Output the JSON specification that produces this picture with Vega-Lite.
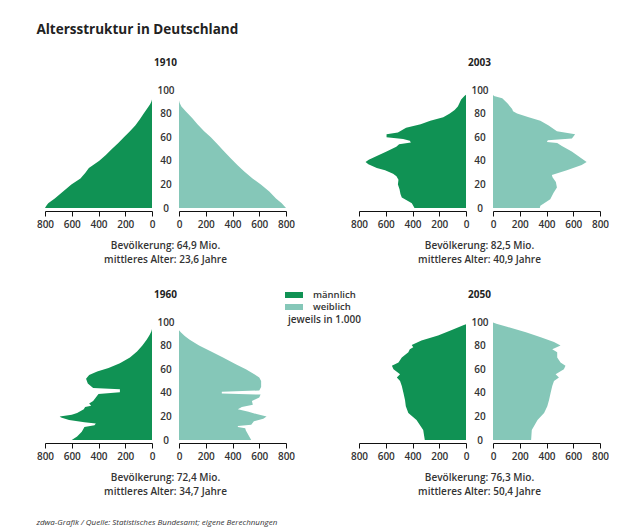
{
"$schema":"https://vega.github.io/schema/vega-lite/v6.json",
"padding":{"left":36,"top":22,"right":0,"bottom":0},
"title":{"text":"Altersstruktur in Deutschland","anchor":"start","fontSize":13.5,"fontWeight":"bold","color":"#222","offset":22},
"datasets":{"pop":[
{"year":"1910","sex":"männlich","age":0,"value":800},{"year":"1910","sex":"männlich","age":2,"value":790},{"year":"1910","sex":"männlich","age":4,"value":776},{"year":"1910","sex":"männlich","age":8,"value":727},{"year":"1910","sex":"männlich","age":14,"value":665},{"year":"1910","sex":"männlich","age":20,"value":603},{"year":"1910","sex":"männlich","age":25,"value":535},{"year":"1910","sex":"männlich","age":30,"value":498},{"year":"1910","sex":"männlich","age":34,"value":472},{"year":"1910","sex":"männlich","age":36,"value":445},{"year":"1910","sex":"männlich","age":40,"value":394},{"year":"1910","sex":"männlich","age":45,"value":345},{"year":"1910","sex":"männlich","age":50,"value":300},{"year":"1910","sex":"männlich","age":55,"value":252},{"year":"1910","sex":"männlich","age":60,"value":210},{"year":"1910","sex":"männlich","age":65,"value":165},{"year":"1910","sex":"männlich","age":70,"value":125},{"year":"1910","sex":"männlich","age":75,"value":92},{"year":"1910","sex":"männlich","age":80,"value":62},{"year":"1910","sex":"männlich","age":85,"value":32},{"year":"1910","sex":"männlich","age":88,"value":14},{"year":"1910","sex":"männlich","age":90,"value":5},{"year":"1910","sex":"männlich","age":92,"value":0},
{"year":"1910","sex":"weiblich","age":0,"value":800},{"year":"1910","sex":"weiblich","age":2,"value":785},{"year":"1910","sex":"weiblich","age":4,"value":768},{"year":"1910","sex":"weiblich","age":8,"value":725},{"year":"1910","sex":"weiblich","age":14,"value":675},{"year":"1910","sex":"weiblich","age":20,"value":612},{"year":"1910","sex":"weiblich","age":25,"value":550},{"year":"1910","sex":"weiblich","age":31,"value":488},{"year":"1910","sex":"weiblich","age":36,"value":440},{"year":"1910","sex":"weiblich","age":42,"value":388},{"year":"1910","sex":"weiblich","age":48,"value":338},{"year":"1910","sex":"weiblich","age":54,"value":288},{"year":"1910","sex":"weiblich","age":60,"value":238},{"year":"1910","sex":"weiblich","age":65,"value":188},{"year":"1910","sex":"weiblich","age":71,"value":138},{"year":"1910","sex":"weiblich","age":76,"value":100},{"year":"1910","sex":"weiblich","age":82,"value":50},{"year":"1910","sex":"weiblich","age":86,"value":18},{"year":"1910","sex":"weiblich","age":89,"value":5},{"year":"1910","sex":"weiblich","age":91,"value":0},
{"year":"2003","sex":"männlich","age":0,"value":385},{"year":"2003","sex":"männlich","age":4,"value":405},{"year":"2003","sex":"männlich","age":7,"value":450},{"year":"2003","sex":"männlich","age":9,"value":480},{"year":"2003","sex":"männlich","age":12,"value":490},{"year":"2003","sex":"männlich","age":16,"value":497},{"year":"2003","sex":"männlich","age":20,"value":509},{"year":"2003","sex":"männlich","age":24,"value":505},{"year":"2003","sex":"männlich","age":27,"value":520},{"year":"2003","sex":"männlich","age":29,"value":545},{"year":"2003","sex":"männlich","age":32,"value":605},{"year":"2003","sex":"männlich","age":34,"value":667},{"year":"2003","sex":"männlich","age":37,"value":730},{"year":"2003","sex":"männlich","age":39,"value":751},{"year":"2003","sex":"männlich","age":41,"value":727},{"year":"2003","sex":"männlich","age":44,"value":667},{"year":"2003","sex":"männlich","age":48,"value":594},{"year":"2003","sex":"männlich","age":52,"value":521},{"year":"2003","sex":"männlich","age":54,"value":500},{"year":"2003","sex":"männlich","age":55.5,"value":412},{"year":"2003","sex":"männlich","age":57,"value":420},{"year":"2003","sex":"männlich","age":58.5,"value":470},{"year":"2003","sex":"männlich","age":60,"value":594},{"year":"2003","sex":"männlich","age":62.5,"value":594},{"year":"2003","sex":"männlich","age":64,"value":509},{"year":"2003","sex":"männlich","age":68,"value":448},{"year":"2003","sex":"männlich","age":71,"value":339},{"year":"2003","sex":"männlich","age":74,"value":267},{"year":"2003","sex":"männlich","age":77,"value":170},{"year":"2003","sex":"männlich","age":80,"value":121},{"year":"2003","sex":"männlich","age":83,"value":85},{"year":"2003","sex":"männlich","age":86,"value":61},{"year":"2003","sex":"männlich","age":92,"value":36},{"year":"2003","sex":"männlich","age":95,"value":12},{"year":"2003","sex":"männlich","age":96,"value":0},
{"year":"2003","sex":"weiblich","age":0,"value":350},{"year":"2003","sex":"weiblich","age":2,"value":354},{"year":"2003","sex":"weiblich","age":7.5,"value":428},{"year":"2003","sex":"weiblich","age":13,"value":453},{"year":"2003","sex":"weiblich","age":17.5,"value":478},{"year":"2003","sex":"weiblich","age":22,"value":470},{"year":"2003","sex":"weiblich","age":26,"value":445},{"year":"2003","sex":"weiblich","age":28,"value":440},{"year":"2003","sex":"weiblich","age":32,"value":552},{"year":"2003","sex":"weiblich","age":36.5,"value":663},{"year":"2003","sex":"weiblich","age":39,"value":700},{"year":"2003","sex":"weiblich","age":42,"value":663},{"year":"2003","sex":"weiblich","age":48,"value":589},{"year":"2003","sex":"weiblich","age":52.5,"value":515},{"year":"2003","sex":"weiblich","age":55,"value":480},{"year":"2003","sex":"weiblich","age":56,"value":403},{"year":"2003","sex":"weiblich","age":57.5,"value":410},{"year":"2003","sex":"weiblich","age":59,"value":590},{"year":"2003","sex":"weiblich","age":62.5,"value":614},{"year":"2003","sex":"weiblich","age":65,"value":478},{"year":"2003","sex":"weiblich","age":70,"value":416},{"year":"2003","sex":"weiblich","age":74,"value":354},{"year":"2003","sex":"weiblich","age":77,"value":267},{"year":"2003","sex":"weiblich","age":80,"value":180},{"year":"2003","sex":"weiblich","age":82,"value":150},{"year":"2003","sex":"weiblich","age":84,"value":143},{"year":"2003","sex":"weiblich","age":89,"value":106},{"year":"2003","sex":"weiblich","age":93,"value":69},{"year":"2003","sex":"weiblich","age":95,"value":7},{"year":"2003","sex":"weiblich","age":96,"value":0},
{"year":"1960","sex":"männlich","age":0,"value":600},{"year":"1960","sex":"männlich","age":3,"value":560},{"year":"1960","sex":"männlich","age":7,"value":525},{"year":"1960","sex":"männlich","age":11,"value":505},{"year":"1960","sex":"männlich","age":12.5,"value":430},{"year":"1960","sex":"männlich","age":14,"value":420},{"year":"1960","sex":"männlich","age":15,"value":505},{"year":"1960","sex":"männlich","age":17,"value":620},{"year":"1960","sex":"männlich","age":19,"value":680},{"year":"1960","sex":"männlich","age":20,"value":690},{"year":"1960","sex":"männlich","age":21.5,"value":600},{"year":"1960","sex":"männlich","age":23,"value":560},{"year":"1960","sex":"männlich","age":26,"value":510},{"year":"1960","sex":"männlich","age":28,"value":500},{"year":"1960","sex":"männlich","age":29,"value":455},{"year":"1960","sex":"männlich","age":31,"value":470},{"year":"1960","sex":"männlich","age":33,"value":440},{"year":"1960","sex":"männlich","age":36,"value":420},{"year":"1960","sex":"männlich","age":39,"value":400},{"year":"1960","sex":"männlich","age":40.5,"value":240},{"year":"1960","sex":"männlich","age":43,"value":240},{"year":"1960","sex":"männlich","age":44,"value":440},{"year":"1960","sex":"männlich","age":48,"value":480},{"year":"1960","sex":"männlich","age":52,"value":493},{"year":"1960","sex":"männlich","age":55,"value":470},{"year":"1960","sex":"männlich","age":58,"value":410},{"year":"1960","sex":"männlich","age":61,"value":325},{"year":"1960","sex":"männlich","age":65,"value":240},{"year":"1960","sex":"männlich","age":70,"value":165},{"year":"1960","sex":"männlich","age":75,"value":112},{"year":"1960","sex":"männlich","age":80,"value":72},{"year":"1960","sex":"männlich","age":85,"value":40},{"year":"1960","sex":"männlich","age":89,"value":18},{"year":"1960","sex":"männlich","age":92,"value":5},{"year":"1960","sex":"männlich","age":94,"value":0},
{"year":"1960","sex":"weiblich","age":0,"value":540},{"year":"1960","sex":"weiblich","age":4,"value":520},{"year":"1960","sex":"weiblich","age":8,"value":500},{"year":"1960","sex":"weiblich","age":10,"value":495},{"year":"1960","sex":"weiblich","age":11,"value":440},{"year":"1960","sex":"weiblich","age":12,"value":440},{"year":"1960","sex":"weiblich","age":13,"value":540},{"year":"1960","sex":"weiblich","age":16,"value":560},{"year":"1960","sex":"weiblich","age":18,"value":630},{"year":"1960","sex":"weiblich","age":20,"value":655},{"year":"1960","sex":"weiblich","age":22,"value":580},{"year":"1960","sex":"weiblich","age":24,"value":520},{"year":"1960","sex":"weiblich","age":26,"value":440},{"year":"1960","sex":"weiblich","age":28,"value":470},{"year":"1960","sex":"weiblich","age":30,"value":552},{"year":"1960","sex":"weiblich","age":33,"value":545},{"year":"1960","sex":"weiblich","age":36,"value":600},{"year":"1960","sex":"weiblich","age":38.5,"value":610},{"year":"1960","sex":"weiblich","age":39.5,"value":320},{"year":"1960","sex":"weiblich","age":41,"value":320},{"year":"1960","sex":"weiblich","age":42,"value":600},{"year":"1960","sex":"weiblich","age":45,"value":614},{"year":"1960","sex":"weiblich","age":50,"value":614},{"year":"1960","sex":"weiblich","age":53,"value":600},{"year":"1960","sex":"weiblich","age":56,"value":560},{"year":"1960","sex":"weiblich","age":60,"value":500},{"year":"1960","sex":"weiblich","age":64,"value":428},{"year":"1960","sex":"weiblich","age":70,"value":329},{"year":"1960","sex":"weiblich","age":75,"value":240},{"year":"1960","sex":"weiblich","age":80,"value":150},{"year":"1960","sex":"weiblich","age":85,"value":80},{"year":"1960","sex":"weiblich","age":88,"value":45},{"year":"1960","sex":"weiblich","age":91,"value":15},{"year":"1960","sex":"weiblich","age":93,"value":0},
{"year":"2050","sex":"männlich","age":0,"value":308},{"year":"2050","sex":"männlich","age":8.6,"value":320},{"year":"2050","sex":"männlich","age":17,"value":370},{"year":"2050","sex":"männlich","age":23,"value":431},{"year":"2050","sex":"männlich","age":28.6,"value":450},{"year":"2050","sex":"männlich","age":34,"value":456},{"year":"2050","sex":"männlich","age":40,"value":468},{"year":"2050","sex":"männlich","age":45.7,"value":480},{"year":"2050","sex":"männlich","age":50,"value":493},{"year":"2050","sex":"männlich","age":53,"value":517},{"year":"2050","sex":"männlich","age":55.7,"value":493},{"year":"2050","sex":"männlich","age":60,"value":542},{"year":"2050","sex":"männlich","age":63,"value":554},{"year":"2050","sex":"männlich","age":65.7,"value":505},{"year":"2050","sex":"männlich","age":70,"value":480},{"year":"2050","sex":"männlich","age":74.3,"value":431},{"year":"2050","sex":"männlich","age":77,"value":420},{"year":"2050","sex":"männlich","age":78.6,"value":394},{"year":"2050","sex":"männlich","age":80.6,"value":406},{"year":"2050","sex":"männlich","age":84.3,"value":333},{"year":"2050","sex":"männlich","age":88.6,"value":209},{"year":"2050","sex":"männlich","age":93,"value":111},{"year":"2050","sex":"männlich","age":97,"value":25},{"year":"2050","sex":"männlich","age":98,"value":0},
{"year":"2050","sex":"weiblich","age":0,"value":285},{"year":"2050","sex":"weiblich","age":8.6,"value":290},{"year":"2050","sex":"weiblich","age":17,"value":333},{"year":"2050","sex":"weiblich","age":23,"value":382},{"year":"2050","sex":"weiblich","age":28.6,"value":406},{"year":"2050","sex":"weiblich","age":34,"value":419},{"year":"2050","sex":"weiblich","age":40,"value":431},{"year":"2050","sex":"weiblich","age":45.7,"value":443},{"year":"2050","sex":"weiblich","age":50,"value":456},{"year":"2050","sex":"weiblich","age":53,"value":493},{"year":"2050","sex":"weiblich","age":55.7,"value":468},{"year":"2050","sex":"weiblich","age":60,"value":530},{"year":"2050","sex":"weiblich","age":63,"value":542},{"year":"2050","sex":"weiblich","age":65.7,"value":505},{"year":"2050","sex":"weiblich","age":70,"value":480},{"year":"2050","sex":"weiblich","age":74.3,"value":480},{"year":"2050","sex":"weiblich","age":77,"value":443},{"year":"2050","sex":"weiblich","age":80,"value":505},{"year":"2050","sex":"weiblich","age":83,"value":456},{"year":"2050","sex":"weiblich","age":87,"value":357},{"year":"2050","sex":"weiblich","age":91.4,"value":246},{"year":"2050","sex":"weiblich","age":95.7,"value":111},{"year":"2050","sex":"weiblich","age":98.6,"value":25},{"year":"2050","sex":"weiblich","age":99.5,"value":0}
]},
"vconcat":[{
 "spacing":25,
 "title":{"text":"zdwa-Grafik / Quelle: Statistisches Bundesamt; eigene Berechnungen","orient":"bottom","anchor":"start","fontSize":8,"fontStyle":"italic","fontWeight":"normal","color":"#333","offset":22},
 "vconcat":[
  {"hconcat":[
   {"title":{"text":["Bevölkerung: 64,9 Mio.","mittleres Alter: 23,6 Jahre"],"orient":"bottom","anchor":"middle","fontSize":10,"fontWeight":600,"color":"#333","lineHeight":14,"offset":12},
    "vconcat":[{"title":{"text":"1910","anchor":"middle","fontSize":10,"fontWeight":"bold","color":"#222","offset":17},"spacing":27,"bounds":"flush","hconcat":[
     {"data":{"name":"pop"},"transform":[{"filter":"datum.year=='1910' && datum.sex=='männlich'"}],"width":107,"height":121,"mark":{"type":"area","orient":"horizontal"},
      "encoding":{"y":{"field":"age","type":"quantitative","scale":{"domain":[-2.5,100],"nice":false,"zero":false},"axis":{"orient":"right","values":[0,20,40,60,80,100],"title":null,"domain":false,"ticks":false,"tickSize":0,"labelAlign":"center","labelPadding":13.5}},
       "x":{"field":"value","type":"quantitative","scale":{"domain":[0,800],"reverse":true},"axis":{"values":[0,200,400,600,800],"title":null}},
       "color":{"field":"sex","type":"nominal","scale":{"domain":["männlich","weiblich"],"range":["#109254","#85c7b8"]},"legend":{"orient":"none","legendX":243,"legendY":199,"title":"jeweils in 1.000","titleOrient":"bottom","titleFontSize":10,"titleFontWeight":600,"titleColor":"#333","labelFontSize":9.5,"labelFontWeight":600,"labelColor":"#333","symbolType":"M-1.5,-0.5H1.5V0.5H-1.5Z","symbolSize":144,"symbolStrokeWidth":0,"symbolOpacity":1,"rowPadding":1,"labelOffset":13,"titlePadding":3}}}},
     {"data":{"name":"pop"},"transform":[{"filter":"datum.year=='1910' && datum.sex=='weiblich'"}],"width":107,"height":121,"mark":{"type":"area","orient":"horizontal"},
      "encoding":{"y":{"field":"age","type":"quantitative","scale":{"domain":[-2.5,100],"nice":false,"zero":false},"axis":null},
       "x":{"field":"value","type":"quantitative","scale":{"domain":[0,800]},"axis":{"values":[0,200,400,600,800],"title":null}},
       "color":{"field":"sex","type":"nominal","scale":{"domain":["männlich","weiblich"],"range":["#109254","#85c7b8"]},"legend":{"orient":"none","legendX":243,"legendY":199,"title":"jeweils in 1.000","titleOrient":"bottom","titleFontSize":10,"titleFontWeight":600,"titleColor":"#333","labelFontSize":9.5,"labelFontWeight":600,"labelColor":"#333","symbolType":"M-1.5,-0.5H1.5V0.5H-1.5Z","symbolSize":144,"symbolStrokeWidth":0,"symbolOpacity":1,"rowPadding":1,"labelOffset":13,"titlePadding":3}}}}
    ]}]},
   {"title":{"text":["Bevölkerung: 82,5 Mio.","mittleres Alter: 40,9 Jahre"],"orient":"bottom","anchor":"middle","fontSize":10,"fontWeight":600,"color":"#333","lineHeight":14,"offset":12},
    "vconcat":[{"title":{"text":"2003","anchor":"middle","fontSize":10,"fontWeight":"bold","color":"#222","offset":17},"spacing":27,"bounds":"flush","hconcat":[
     {"data":{"name":"pop"},"transform":[{"filter":"datum.year=='2003' && datum.sex=='männlich'"}],"width":107,"height":121,"mark":{"type":"area","orient":"horizontal"},
      "encoding":{"y":{"field":"age","type":"quantitative","scale":{"domain":[-2.5,100],"nice":false,"zero":false},"axis":{"orient":"right","values":[0,20,40,60,80,100],"title":null,"domain":false,"ticks":false,"tickSize":0,"labelAlign":"center","labelPadding":13.5}},
       "x":{"field":"value","type":"quantitative","scale":{"domain":[0,800],"reverse":true},"axis":{"values":[0,200,400,600,800],"title":null}},
       "color":{"field":"sex","type":"nominal","scale":{"domain":["männlich","weiblich"],"range":["#109254","#85c7b8"]},"legend":{"orient":"none","legendX":243,"legendY":199,"title":"jeweils in 1.000","titleOrient":"bottom","titleFontSize":10,"titleFontWeight":600,"titleColor":"#333","labelFontSize":9.5,"labelFontWeight":600,"labelColor":"#333","symbolType":"M-1.5,-0.5H1.5V0.5H-1.5Z","symbolSize":144,"symbolStrokeWidth":0,"symbolOpacity":1,"rowPadding":1,"labelOffset":13,"titlePadding":3}}}},
     {"data":{"name":"pop"},"transform":[{"filter":"datum.year=='2003' && datum.sex=='weiblich'"}],"width":107,"height":121,"mark":{"type":"area","orient":"horizontal"},
      "encoding":{"y":{"field":"age","type":"quantitative","scale":{"domain":[-2.5,100],"nice":false,"zero":false},"axis":null},
       "x":{"field":"value","type":"quantitative","scale":{"domain":[0,800]},"axis":{"values":[0,200,400,600,800],"title":null}},
       "color":{"field":"sex","type":"nominal","scale":{"domain":["männlich","weiblich"],"range":["#109254","#85c7b8"]},"legend":{"orient":"none","legendX":243,"legendY":199,"title":"jeweils in 1.000","titleOrient":"bottom","titleFontSize":10,"titleFontWeight":600,"titleColor":"#333","labelFontSize":9.5,"labelFontWeight":600,"labelColor":"#333","symbolType":"M-1.5,-0.5H1.5V0.5H-1.5Z","symbolSize":144,"symbolStrokeWidth":0,"symbolOpacity":1,"rowPadding":1,"labelOffset":13,"titlePadding":3}}}}
    ]}]}
  ],"spacing":55},
  {"hconcat":[
   {"title":{"text":["Bevölkerung: 72,4 Mio.","mittleres Alter: 34,7 Jahre"],"orient":"bottom","anchor":"middle","fontSize":10,"fontWeight":600,"color":"#333","lineHeight":14,"offset":12},
    "vconcat":[{"title":{"text":"1960","anchor":"middle","fontSize":10,"fontWeight":"bold","color":"#222","offset":17},"spacing":27,"bounds":"flush","hconcat":[
     {"data":{"name":"pop"},"transform":[{"filter":"datum.year=='1960' && datum.sex=='männlich'"}],"width":107,"height":121,"mark":{"type":"area","orient":"horizontal"},
      "encoding":{"y":{"field":"age","type":"quantitative","scale":{"domain":[-2.5,100],"nice":false,"zero":false},"axis":{"orient":"right","values":[0,20,40,60,80,100],"title":null,"domain":false,"ticks":false,"tickSize":0,"labelAlign":"center","labelPadding":13.5}},
       "x":{"field":"value","type":"quantitative","scale":{"domain":[0,800],"reverse":true},"axis":{"values":[0,200,400,600,800],"title":null}},
       "color":{"field":"sex","type":"nominal","scale":{"domain":["männlich","weiblich"],"range":["#109254","#85c7b8"]},"legend":{"orient":"none","legendX":243,"legendY":199,"title":"jeweils in 1.000","titleOrient":"bottom","titleFontSize":10,"titleFontWeight":600,"titleColor":"#333","labelFontSize":9.5,"labelFontWeight":600,"labelColor":"#333","symbolType":"M-1.5,-0.5H1.5V0.5H-1.5Z","symbolSize":144,"symbolStrokeWidth":0,"symbolOpacity":1,"rowPadding":1,"labelOffset":13,"titlePadding":3}}}},
     {"data":{"name":"pop"},"transform":[{"filter":"datum.year=='1960' && datum.sex=='weiblich'"}],"width":107,"height":121,"mark":{"type":"area","orient":"horizontal"},
      "encoding":{"y":{"field":"age","type":"quantitative","scale":{"domain":[-2.5,100],"nice":false,"zero":false},"axis":null},
       "x":{"field":"value","type":"quantitative","scale":{"domain":[0,800]},"axis":{"values":[0,200,400,600,800],"title":null}},
       "color":{"field":"sex","type":"nominal","scale":{"domain":["männlich","weiblich"],"range":["#109254","#85c7b8"]},"legend":{"orient":"none","legendX":243,"legendY":199,"title":"jeweils in 1.000","titleOrient":"bottom","titleFontSize":10,"titleFontWeight":600,"titleColor":"#333","labelFontSize":9.5,"labelFontWeight":600,"labelColor":"#333","symbolType":"M-1.5,-0.5H1.5V0.5H-1.5Z","symbolSize":144,"symbolStrokeWidth":0,"symbolOpacity":1,"rowPadding":1,"labelOffset":13,"titlePadding":3}}}}
    ]}]},
   {"title":{"text":["Bevölkerung: 76,3 Mio.","mittleres Alter: 50,4 Jahre"],"orient":"bottom","anchor":"middle","fontSize":10,"fontWeight":600,"color":"#333","lineHeight":14,"offset":12},
    "vconcat":[{"title":{"text":"2050","anchor":"middle","fontSize":10,"fontWeight":"bold","color":"#222","offset":17},"spacing":27,"bounds":"flush","hconcat":[
     {"data":{"name":"pop"},"transform":[{"filter":"datum.year=='2050' && datum.sex=='männlich'"}],"width":107,"height":121,"mark":{"type":"area","orient":"horizontal"},
      "encoding":{"y":{"field":"age","type":"quantitative","scale":{"domain":[-2.5,100],"nice":false,"zero":false},"axis":{"orient":"right","values":[0,20,40,60,80,100],"title":null,"domain":false,"ticks":false,"tickSize":0,"labelAlign":"center","labelPadding":13.5}},
       "x":{"field":"value","type":"quantitative","scale":{"domain":[0,800],"reverse":true},"axis":{"values":[0,200,400,600,800],"title":null}},
       "color":{"field":"sex","type":"nominal","scale":{"domain":["männlich","weiblich"],"range":["#109254","#85c7b8"]},"legend":{"orient":"none","legendX":243,"legendY":199,"title":"jeweils in 1.000","titleOrient":"bottom","titleFontSize":10,"titleFontWeight":600,"titleColor":"#333","labelFontSize":9.5,"labelFontWeight":600,"labelColor":"#333","symbolType":"M-1.5,-0.5H1.5V0.5H-1.5Z","symbolSize":144,"symbolStrokeWidth":0,"symbolOpacity":1,"rowPadding":1,"labelOffset":13,"titlePadding":3}}}},
     {"data":{"name":"pop"},"transform":[{"filter":"datum.year=='2050' && datum.sex=='weiblich'"}],"width":107,"height":121,"mark":{"type":"area","orient":"horizontal"},
      "encoding":{"y":{"field":"age","type":"quantitative","scale":{"domain":[-2.5,100],"nice":false,"zero":false},"axis":null},
       "x":{"field":"value","type":"quantitative","scale":{"domain":[0,800]},"axis":{"values":[0,200,400,600,800],"title":null}},
       "color":{"field":"sex","type":"nominal","scale":{"domain":["männlich","weiblich"],"range":["#109254","#85c7b8"]},"legend":{"orient":"none","legendX":243,"legendY":199,"title":"jeweils in 1.000","titleOrient":"bottom","titleFontSize":10,"titleFontWeight":600,"titleColor":"#333","labelFontSize":9.5,"labelFontWeight":600,"labelColor":"#333","symbolType":"M-1.5,-0.5H1.5V0.5H-1.5Z","symbolSize":144,"symbolStrokeWidth":0,"symbolOpacity":1,"rowPadding":1,"labelOffset":13,"titlePadding":3}}}}
    ]}]}
  ],"spacing":55}
 ]
}],
"config":{
 "font":"Open Sans",
 "background":"white",
 "view":{"stroke":null},
 "axis":{"grid":false,"labelFlush":false,"labelOverlap":false,"domainColor":"#111","tickColor":"#111","tickSize":5,"labelFontSize":10,"labelFontWeight":600,"labelColor":"#333","labelPadding":3}
}
}
